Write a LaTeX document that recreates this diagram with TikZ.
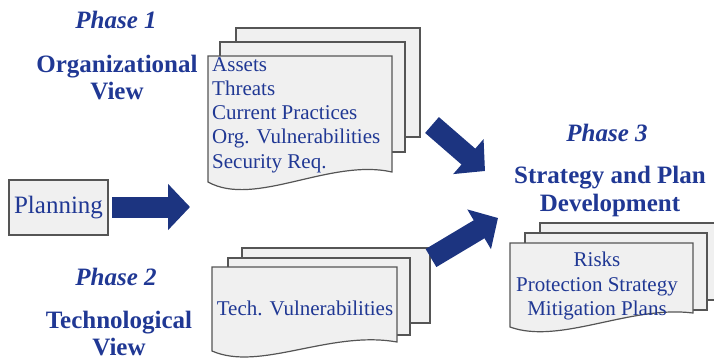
\documentclass[tikz,border=0pt]{standalone}
\usepackage{fontspec}
\setmainfont{Liberation Serif}
\usepackage{tikz}
\usetikzlibrary{arrows.meta}

\definecolor{txtblue}{RGB}{32,56,148}
\definecolor{arrowblue}{RGB}{28,52,128}
\definecolor{paperfill}{RGB}{240,240,240}
\definecolor{paperline}{RGB}{85,85,85}

\begin{document}
\begin{tikzpicture}[x=1pt,y=-1pt,
		paper/.style={draw=paperline, fill=paperfill, line width=1.2pt},
		phase/.style={font=\fontsize{25}{28}\selectfont\bfseries\itshape, text=txtblue, inner sep=0pt},
		viewtitle/.style={font=\fontsize{25}{27}\selectfont\bfseries, text=txtblue, align=center, inner sep=0pt},
		doctext/.style={font=\fontsize{21}{24.3}\selectfont, text=txtblue, inner sep=0pt},
		bigarrow/.style={draw=arrowblue, line width=21pt, -{Triangle[length=22pt,width=45pt]}}
	]
	\useasboundingbox (0,0) rectangle (714,360);

	% Phase 1
	\node[phase] (ph1) at (116,20) {Phase 1};
	\node[viewtitle] (orgview) at (117,78) {Organizational\\View};
	\draw[paper] (236,28) rectangle (420,137);
	\draw[paper] (220,42) rectangle (405,152);
	\draw[paper] (392,172) -- (392,56) -- (208,56) -- (208,182) .. controls (255,208) and (330,158) .. cycle;
	\node[doctext, align=left, anchor=north west] (orgdoc) at (212,57) {Assets\\Threats\\Current Practices\\Org. Vulnerabilities\\Security Req.};

	% Planning
	\node[paper, doctext, font=\fontsize{25}{28}\selectfont, minimum width=99pt, minimum height=55pt] (plan) at (58.5,207.5) {Planning};

	% Phase 2
	\node[phase] (ph2) at (116,277) {Phase 2};
	\node[viewtitle] (techview) at (119,334) {Technological\\View};
	\draw[paper] (242,248) rectangle (430,323);
	\draw[paper] (228,258) rectangle (410,335);
	\draw[paper] (397,342) -- (397,267) -- (212,267) -- (212,351) .. controls (260,372) and (330,330) .. cycle;
	\node[doctext] (techdoc) at (305,308) {Tech. Vulnerabilities};

	% Phase 3
	\node[phase] (ph3) at (607,133) {Phase 3};
	\node[viewtitle, font=\fontsize{25}{28}\selectfont\bfseries] (strat) at (610,191) {Strategy and Plan\\Development};
	\draw[paper] (540,223) rectangle (730,300);
	\draw[paper] (525,233) rectangle (707,310);
	\draw[paper] (693,313) -- (693,243) -- (510,243) -- (510,327) .. controls (560,345) and (630,305) .. cycle;
	\node[doctext, align=center] (stratdoc) at (597,286) {Risks\\Protection Strategy\\Mitigation Plans};

	% block arrows
	\coordinate (a1s) at (112,207);
	\coordinate (a1e) at (190,207);
	\coordinate (a2s) at (432,125);
	\coordinate (a2e) at (485,171);
	\coordinate (a3s) at (431,258);
	\coordinate (a3e) at (498,218);
	\draw[bigarrow] (a1s) -- (a1e);
	\draw[bigarrow] (a2s) -- (a2e);
	\draw[bigarrow] (a3s) -- (a3e);
\end{tikzpicture}
\end{document}
